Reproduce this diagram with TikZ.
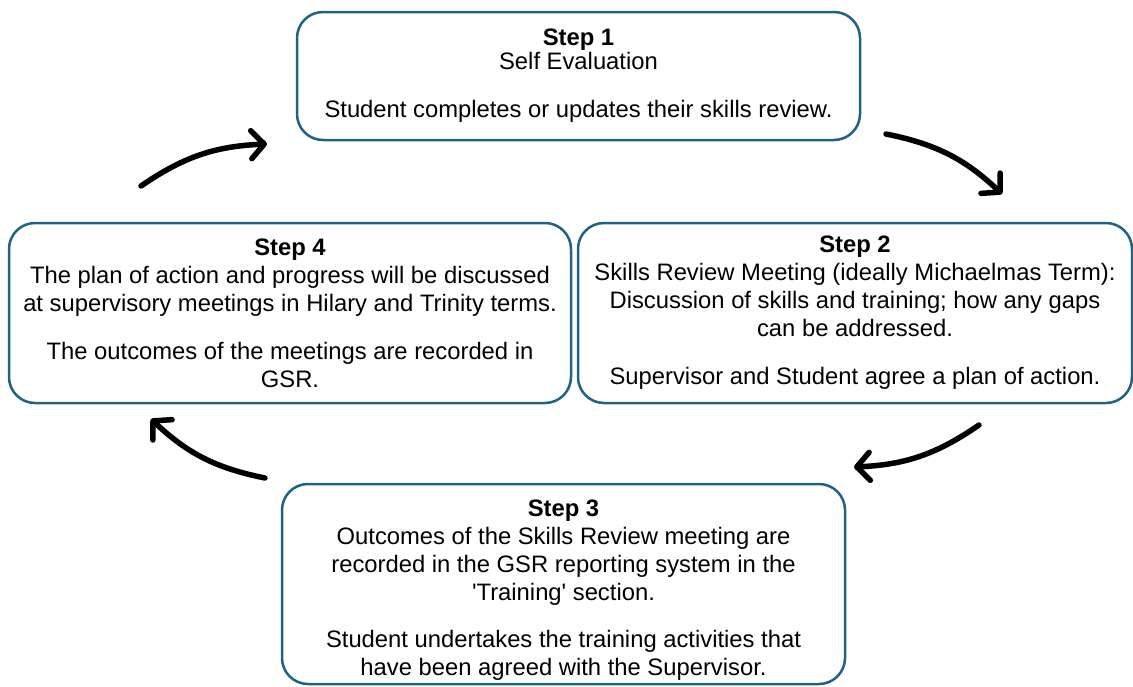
\documentclass[tikz,border=0pt]{standalone}
\usepackage{fontspec}
\setmainfont{Liberation Sans}
\usetikzlibrary{arrows.meta}
\definecolor{boxblue}{RGB}{31,98,133}

\begin{document}
\begin{tikzpicture}[x=1pt,y=-1pt,
  stepbox/.style={draw=boxblue,line width=2.5pt,rounded corners=26pt,align=center,
    font=\fontsize{23.8}{28}\selectfont},
  cyclearrow/.style={line width=5.5pt,line cap=round,
    -{Straight Barb[length=13pt,width=28pt,line cap=round,line join=round]}}]
\useasboundingbox (0,0) rectangle (1133,686);

\node[stepbox,minimum width=563,minimum height=128] (s1) at (578.5,76)
  {\textbf{Step 1}\\[-4pt] Self Evaluation\\[20pt] Student completes or updates their skills review.};
\node[stepbox,minimum width=554,minimum height=180] (s2) at (855,313)
  {\textbf{Step 2}\\ Skills Review Meeting (ideally Michaelmas Term):\\
   Discussion of skills and training; how any gaps\\ can be addressed.\\[20pt]
   Supervisor and Student agree a plan of action.};
\node[stepbox,minimum width=563,minimum height=200] (s3) at (563.5,584)
  {\rule{0pt}{29pt}\textbf{Step 3}\\ Outcomes of the Skills Review meeting are\\
   recorded in the GSR reporting system in the\\ \textquotesingle Training\textquotesingle\ section.\\[19pt]
   Student undertakes the training activities that\\ have been agreed with the Supervisor.};
\node[stepbox,minimum width=562,minimum height=180] (s4) at (290,313)
  {\textbf{Step 4}\\ The plan of action and progress will be discussed\\
   at supervisory meetings in Hilary and Trinity terms.\\[20pt]
   The outcomes of the meetings are recorded in\\ GSR.};

% arrows between the steps
\coordinate (a1) at (141,186);
\coordinate (b1) at (267,144);
\coordinate (a2) at (886,134);
\coordinate (b2) at (1002,194);
\coordinate (a3) at (979,425);
\coordinate (b3) at (854,467);
\coordinate (a4) at (265,478);
\coordinate (b4) at (151,419);
\foreach \a/\b in {a1/b1,a2/b2,a3/b3,a4/b4}
  \draw[cyclearrow] (\a) to[bend left=16] (\b);
\end{tikzpicture}
\end{document}
